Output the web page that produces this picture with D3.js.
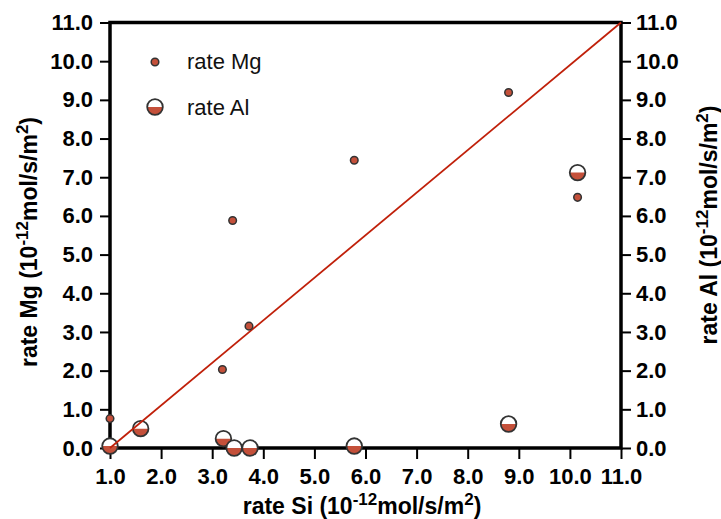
<!DOCTYPE html>
<html>
<head>
<meta charset="utf-8">
<script src="https://cdn.jsdelivr.net/npm/d3@7/dist/d3.min.js"></script>
<style>
  html, body { margin: 0; padding: 0; background: #fff; }
  svg { display: block; font-family: "Liberation Sans", Arial, Helvetica, sans-serif; }
</style>
</head>
<body>
<svg id="chart" width="721" height="519"></svg>
<script>
// Silicon release rate (x) for each sample
const rateSiMg = [1.0, 3.2, 3.4, 3.72, 5.78, 8.8, 10.15];
const rateMg   = [0.76, 2.03, 5.88, 3.15, 7.44, 9.19, 6.48];

const rateSiAl = [1.0, 1.6, 3.22, 3.43, 3.74, 5.78, 8.8, 10.15];
const rateAl   = [0.05, 0.5, 0.24, 0.0, 0.0, 0.05, 0.62, 7.12];

// Reference line end points
const lineSi = [1.0, 11.0];
const lineY  = [0.0, 11.0];

const xTicks = [1, 2, 3, 4, 5, 6, 7, 8, 9, 10, 11];
const yTicks = [0, 1, 2, 3, 4, 5, 6, 7, 8, 9, 10, 11];

const legendLabels = ["rate Mg", "rate Al"];

const markerRed = "#c4503a";
const lineRed = "#c0200a";
const edge = "#333333";

const svg = d3.select("#chart");
const L = 110, R = 621, T = 22.5, B = 448;

const x = d3.scaleLinear().domain([1, 11]).range([L, R]);
const yL = d3.scaleLinear().domain([0, 11]).range([B, T]);
const yR = d3.scaleLinear().domain([0, 11]).range([B, T]);

const fmt = d3.format(".1f");
const tickFont = "bold 22px 'Liberation Sans', Arial, sans-serif";

function styleAxis(g) {
  g.select(".domain").remove();
  g.selectAll(".tick line").attr("stroke", "#000").attr("stroke-width", 2);
  g.selectAll(".tick text").attr("fill", "#000").style("font", tickFont);
}

// Bottom axis
svg.append("g").attr("transform", `translate(0,${B})`)
  .call(d3.axisBottom(x).tickValues(xTicks).tickFormat(fmt).tickSize(11).tickPadding(9))
  .call(styleAxis);

// Left axis
svg.append("g").attr("transform", `translate(${L},0)`)
  .call(d3.axisLeft(yL).tickValues(yTicks).tickFormat(fmt).tickSize(10).tickPadding(7))
  .call(styleAxis);

// Right axis
svg.append("g").attr("transform", `translate(${R},0)`)
  .call(d3.axisRight(yR).tickValues(yTicks).tickFormat(fmt).tickSize(10).tickPadding(5))
  .call(styleAxis);

// Frame
svg.append("rect")
  .attr("x", L).attr("y", T).attr("width", R - L).attr("height", B - T)
  .attr("fill", "none").attr("stroke", "#000").attr("stroke-width", 3.5);

// Axis titles with superscripts
function title(sel, main) {
  sel.append("tspan").text(main + " (10");
  sel.append("tspan").attr("dy", -9).style("font-size", "17px").text("-12");
  sel.append("tspan").attr("dy", 9).text("mol/s/m");
  sel.append("tspan").attr("dy", -9).style("font-size", "17px").text("2");
  sel.append("tspan").attr("dy", 9).text(")");
}
const titleFont = "bold 23px 'Liberation Sans', Arial, sans-serif";

svg.append("text").attr("x", 362).attr("y", 514)
  .attr("text-anchor", "middle").style("font", titleFont)
  .call(title, "rate Si");

svg.append("text").attr("transform", "translate(37,242) rotate(-90)")
  .attr("text-anchor", "middle").style("font", titleFont)
  .call(title, "rate Mg");

svg.append("text").attr("transform", "translate(717,225) rotate(-90)")
  .attr("text-anchor", "middle").style("font", titleFont)
  .call(title, "rate Al");

// Half-filled marker for Al
const rAl = 7.8;
function halfCircle(g) {
  g.append("circle").attr("r", rAl).attr("fill", "#fff");
  g.append("path")
    .attr("d", d3.arc()({ innerRadius: 0, outerRadius: rAl, startAngle: Math.PI / 2, endAngle: Math.PI * 1.5 }))
    .attr("fill", markerRed);
  g.append("circle").attr("r", rAl).attr("fill", "none").attr("stroke", edge).attr("stroke-width", 1.8);
}

const alData = rateSiAl.map((s, i) => ({ s, v: rateAl[i] }));
svg.append("g").selectAll("g").data(alData).join("g")
  .attr("transform", d => `translate(${x(d.s)},${yR(d.v)})`)
  .each(function () { halfCircle(d3.select(this)); });

// Reference line
svg.append("line")
  .attr("x1", x(lineSi[0])).attr("y1", yL(lineY[0]))
  .attr("x2", x(lineSi[1])).attr("y2", yL(lineY[1]))
  .attr("stroke", lineRed).attr("stroke-width", 1.8);

// Mg markers
const mgData = rateSiMg.map((s, i) => ({ s, v: rateMg[i] }));
svg.append("g").selectAll("circle").data(mgData).join("circle")
  .attr("cx", d => x(d.s)).attr("cy", d => yL(d.v)).attr("r", 3.8)
  .attr("fill", markerRed).attr("stroke", edge).attr("stroke-width", 1.5);

// Legend
const legFont = "22px 'Liberation Sans', Arial, sans-serif";
const leg = svg.append("g");
leg.append("circle").attr("cx", 155).attr("cy", 62).attr("r", 3.8)
  .attr("fill", markerRed).attr("stroke", edge).attr("stroke-width", 1.5);
leg.append("text").attr("x", 187).attr("y", 69).style("font", legFont).attr("fill", "#111").text(legendLabels[0]);
const lg2 = leg.append("g").attr("transform", "translate(155,107)");
halfCircle(lg2);
leg.append("text").attr("x", 187).attr("y", 115).style("font", legFont).attr("fill", "#111").text(legendLabels[1]);
</script>
</body>
</html>
